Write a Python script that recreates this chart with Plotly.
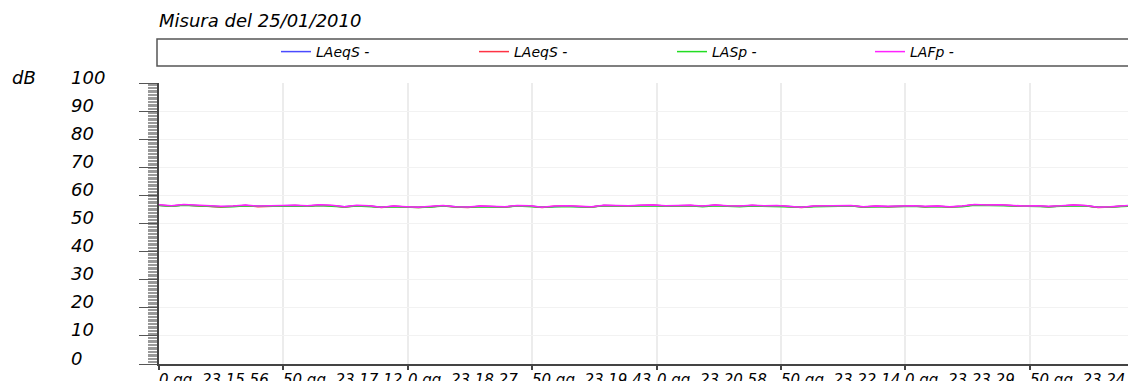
import pandas as pd
import plotly.graph_objects as go

# ---------------- data ----------------
title_text = "Misura del 25/01/2010"
series_names = ["LAeqS -", "LAeqS -", "LASp -", "LAFp -"]
series_colors = ["#4a4aff", "#ff3344", "#22dd22", "#ff22ff"]

start_time = "2010-01-25 23:15:56"
end_time = "2010-01-25 23:25:49"
sample_step_s = 7.5

laeqs_blue = [
    56.5, 56.2, 56.6, 56.4, 56.2, 56.0, 56.1, 56.4, 56.1, 56.2, 56.3, 56.4, 56.2, 56.5, 56.3, 56.0, 56.3, 56.2, 55.8, 56.1,
    55.9, 55.8, 56.0, 56.3, 56.0, 55.8, 56.1, 56.0, 55.9, 56.3, 56.2, 55.8, 56.1, 56.2, 56.0, 55.9, 56.4, 56.3, 56.2, 56.4,
    56.5, 56.2, 56.3, 56.4, 56.1, 56.5, 56.2, 56.1, 56.4, 56.2, 56.3, 56.0, 55.8, 56.1, 56.2, 56.4, 56.3, 55.9, 56.1, 56.0,
    56.1, 56.2, 56.0, 56.1, 55.9, 56.1, 56.7, 56.5, 56.6, 56.4, 56.1, 56.2, 56.0, 56.2, 56.5, 56.3, 55.8, 55.9, 56.2, 56.5,
]
laeqs_red = [
    56.5, 56.2, 56.6, 56.4, 56.3, 55.9, 56.1, 56.4, 56.0, 56.2, 56.3, 56.4, 56.2, 56.5, 56.3, 55.9, 56.3, 56.2, 55.7, 56.1,
    55.9, 55.7, 56.0, 56.3, 55.9, 55.7, 56.1, 56.0, 55.9, 56.3, 56.2, 55.7, 56.1, 56.2, 56.0, 55.9, 56.4, 56.3, 56.2, 56.4,
    56.5, 56.2, 56.3, 56.4, 56.1, 56.5, 56.2, 56.1, 56.4, 56.2, 56.3, 56.0, 55.7, 56.1, 56.2, 56.4, 56.3, 55.9, 56.1, 56.0,
    56.1, 56.2, 56.0, 56.1, 55.9, 56.1, 56.7, 56.5, 56.6, 56.4, 56.1, 56.2, 56.0, 56.2, 56.5, 56.3, 55.7, 55.9, 56.2, 56.5,
]
lasp_green = [
    56.4, 56.1, 56.5, 56.3, 56.2, 56.0, 56.0, 56.3, 56.1, 56.1, 56.2, 56.3, 56.1, 56.4, 56.2, 55.9, 56.2, 56.1, 55.8, 56.0,
    55.9, 55.7, 55.9, 56.2, 55.9, 55.8, 56.0, 56.0, 55.9, 56.2, 56.1, 55.8, 56.0, 56.1, 56.0, 55.9, 56.3, 56.2, 56.1, 56.2,
    56.3, 56.1, 56.2, 56.3, 56.0, 56.3, 56.1, 56.0, 56.2, 56.1, 56.2, 56.0, 55.8, 56.0, 56.1, 56.2, 56.2, 55.9, 56.0, 55.9,
    56.0, 56.1, 56.0, 56.0, 55.9, 56.0, 56.5, 56.4, 56.4, 56.3, 56.0, 56.1, 56.0, 56.1, 56.3, 56.2, 55.8, 55.9, 56.1, 56.3,
]
lafp_magenta = [
    56.7, 56.3, 56.8, 56.5, 56.4, 56.1, 56.2, 56.6, 56.2, 56.3, 56.4, 56.5, 56.3, 56.7, 56.5, 56.0, 56.5, 56.3, 55.8, 56.2,
    56.0, 55.8, 56.1, 56.4, 56.0, 55.9, 56.2, 56.1, 56.0, 56.4, 56.3, 55.8, 56.2, 56.3, 56.1, 56.0, 56.5, 56.4, 56.3, 56.5,
    56.6, 56.3, 56.4, 56.5, 56.2, 56.6, 56.3, 56.2, 56.5, 56.3, 56.4, 56.1, 55.8, 56.2, 56.3, 56.5, 56.4, 56.0, 56.2, 56.1,
    56.2, 56.3, 56.1, 56.2, 56.0, 56.2, 56.8, 56.6, 56.7, 56.5, 56.2, 56.3, 56.1, 56.3, 56.6, 56.4, 55.8, 56.0, 56.3, 56.6,
]

y_ticks = [0, 10, 20, 30, 40, 50, 60, 70, 80, 90, 100]
y_unit = "dB"
x_tick_vals = [
    "2010-01-25 23:15:56", "2010-01-25 23:17:11.5", "2010-01-25 23:18:27", "2010-01-25 23:19:42.5",
    "2010-01-25 23:20:58", "2010-01-25 23:22:13.5", "2010-01-25 23:23:29", "2010-01-25 23:24:44.5",
]
x_tick_text = [
    "0 gg, 23.15.56", "50 gg, 23.17.12", "0 gg, 23.18.27", "50 gg, 23.19.43",
    "0 gg, 23.20.58", "50 gg, 23.22.14", "0 gg, 23.23.29", "50 gg, 23.24.45",
]

# ---------------- figure ----------------
# page body adds an 8px margin; the figure is sized so it ends at the window edge
W, H = 1128, 373
L, T, B = 151, 75, 17
PH = H - T - B          # plot height in px
PW = W - L              # plot width in px

series_values = [laeqs_blue, laeqs_red, lasp_green, lafp_magenta]
t0 = pd.Timestamp(start_time)
times = [t0 + pd.Timedelta(seconds=sample_step_s * i) for i in range(len(lafp_magenta))]

FONT = "DejaVu Sans"
fig = go.Figure()
for name, color, vals in zip(series_names, series_colors, series_values):
    fig.add_trace(go.Scatter(x=times, y=vals, mode="lines", name=name,
                             line=dict(color=color, width=1.5)))

annotations = []
for v in y_ticks:
    annotations.append(dict(x=0, xref="paper", xshift=-90, xanchor="left",
                            y=v, yref="y", yanchor="middle", yshift=6,
                            text=str(v), showarrow=False,
                            font=dict(family=FONT, size=18, style="italic", color="#000")))
annotations.append(dict(x=0, xref="paper", xshift=-149, xanchor="left",
                        y=y_ticks[-1], yref="y", yanchor="middle", yshift=6,
                        text=y_unit, showarrow=False,
                        font=dict(family=FONT, size=18, style="italic", color="#000")))
for tv, tt in zip(x_tick_vals, x_tick_text):
    annotations.append(dict(x=tv, xref="x", xanchor="left", xshift=-2,
                            y=0, yref="paper", yanchor="top", yshift=-5,
                            text=tt, showarrow=False,
                            font=dict(family=FONT, size=15, style="italic", color="#000")))

def py(px_from_top):
    """paper y for a figure-pixel row"""
    return (H - B - px_from_top) / PH

fig.update_layout(
    width=W, height=H,
    margin=dict(l=L, r=0, t=T, b=B, autoexpand=False),
    paper_bgcolor="white", plot_bgcolor="white",
    title=dict(text=title_text, x=0, xref="paper", xanchor="left",
               y=1 - 13 / H, yref="container", yanchor="middle",
               font=dict(family=FONT, size=18, style="italic", color="#000")),
    showlegend=True,
    legend=dict(orientation="h", x=(268 - L) / PW, xanchor="left",
                y=py(44), yanchor="middle",
                entrywidth=153, entrywidthmode="pixels",
                bgcolor="rgba(0,0,0,0)", borderwidth=0,
                font=dict(family=FONT, size=14, style="italic", color="#000")),
    annotations=annotations,
    shapes=[dict(type="rect", xref="paper", yref="paper",
                 x0=(149 - L) / PW, x1=1.05, y0=py(58), y1=py(31),
                 line=dict(color="#555", width=1.5), fillcolor="rgba(0,0,0,0)")],
)

fig.update_xaxes(
    range=[start_time, end_time],
    tickvals=x_tick_vals, showticklabels=False,
    ticks="outside", ticklen=4, tickwidth=2, tickcolor="#444",
    showline=True, linecolor="#444", linewidth=2,
    showgrid=True, gridcolor="#ececec", gridwidth=2,
    zeroline=False,
)
fig.update_yaxes(
    range=[0, 100], tickvals=y_ticks, showticklabels=False,
    ticks="outside", ticklen=18, tickwidth=1, tickcolor="#555",
    showline=True, linecolor="#444", linewidth=2,
    showgrid=True, gridcolor="#f2f2f2", gridwidth=1,
    zeroline=False,
    minor=dict(dtick=0.5, ticks="outside", ticklen=9, tickcolor="#999", tickwidth=1, showgrid=False),
)

fig.write_html("out.html")
